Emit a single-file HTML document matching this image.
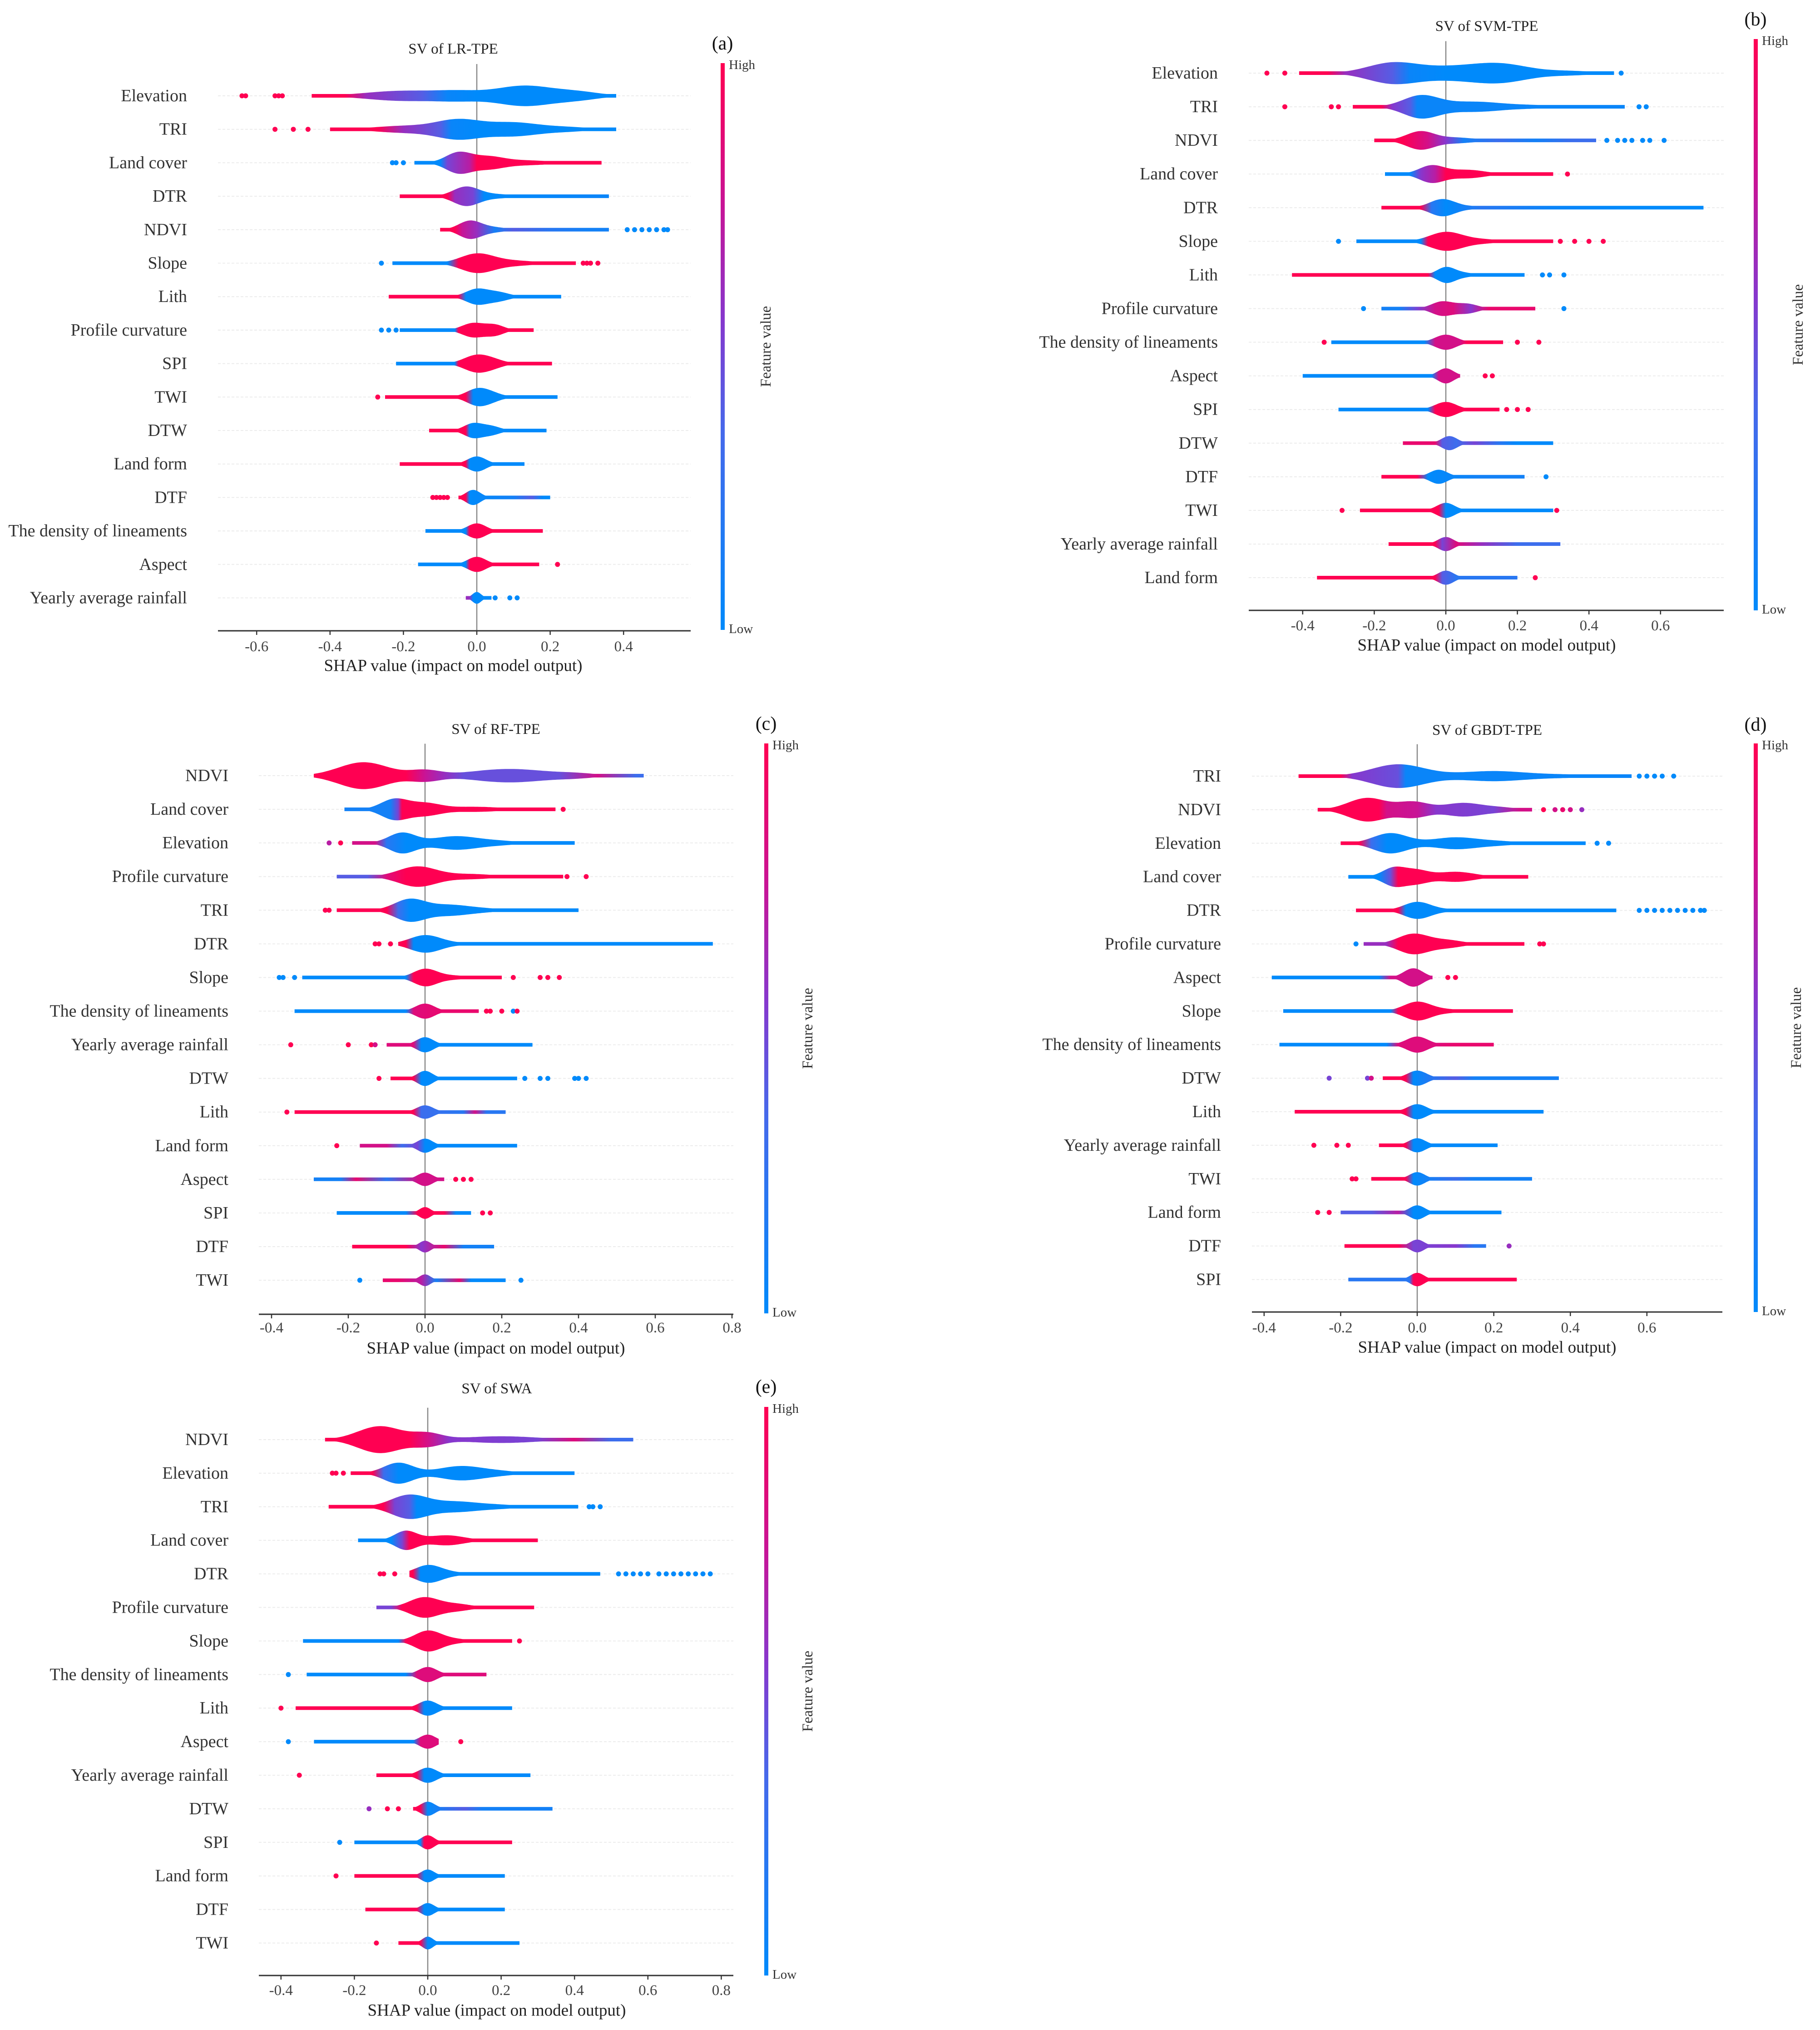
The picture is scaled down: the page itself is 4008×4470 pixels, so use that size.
<!DOCTYPE html>
<html><head><meta charset="utf-8"><style>
html,body{margin:0;padding:0;background:#fff;}
svg{display:block;font-family:"Liberation Serif",serif;}
</style></head><body>
<svg id="fig" xmlns="http://www.w3.org/2000/svg" width="4008" height="4470" viewBox="0 0 4008 4470">
<rect width="4008" height="4470" fill="#fff"/>
</svg>
<script>
// ---------- Panel A: SV of LR-TPE ----------
const featA = ["Elevation","TRI","Land cover","DTR","NDVI","Slope","Lith","Profile curvature","SPI","TWI","DTW","Land form","DTF","The density of lineaments","Aspect","Yearly average rainfall"];
const extA = [[-0.45,0.38],[-0.4,0.38],[-0.17,0.34],[-0.21,0.36],[-0.1,0.36],[-0.23,0.27],[-0.24,0.23],[-0.21,0.155],[-0.22,0.205],[-0.25,0.22],[-0.13,0.19],[-0.21,0.13],[-0.05,0.2],[-0.14,0.18],[-0.16,0.17],[-0.03,0.04]];
const peaksA = [
 [[-0.2,0.1,0.3],[-0.05,0.06,0.2],[0.13,0.08,0.6],[0.28,0.06,0.2]],
 [[-0.2,0.08,0.2],[-0.05,0.06,0.55],[0.1,0.07,0.4],[0.25,0.06,0.12]],
 [[-0.05,0.035,0.6],[0.03,0.04,0.3],[0.12,0.08,0.15]],
 [[-0.03,0.035,0.55],[0.05,0.05,0.12]],
 [[-0.02,0.03,0.5],[0.04,0.04,0.15]],
 [[0,0.045,0.55],[0.1,0.06,0.15]],
 [[0,0.03,0.45],[0.06,0.03,0.25]],
 [[-0.01,0.03,0.42],[0.05,0.025,0.3]],
 [[0,0.035,0.5],[0.05,0.03,0.15]],
 [[0,0.03,0.45],[0.04,0.03,0.2]],
 [[-0.01,0.025,0.42],[0.04,0.025,0.25]],
 [[0,0.025,0.45]],
 [[-0.01,0.02,0.45]],
 [[0,0.025,0.45]],
 [[0,0.025,0.45]],
 [[0,0.012,0.35]]];
const colA = [
 [[-0.36,1],[-0.3,0.6],[-0.15,0.4],[-0.08,0.05],[0,0]],
 [[-0.27,1],[-0.2,0.6],[-0.1,0.4],[-0.07,0.05],[0,0]],
 [[-0.1,0],[-0.08,0.5],[-0.02,0.7],[0,1]],
 [[-0.08,1],[-0.06,0.6],[-0.01,0.5],[0.02,0],[0.3,0.05]],
 [[-0.06,1],[-0.04,0.75],[0,0.6],[0.05,0.1],[0.1,0.4],[0.2,0.2],[0.3,0.1]],
 [[-0.08,0],[-0.05,1]],
 [[-0.05,1],[-0.03,0]],
 [[-0.06,0],[-0.05,1]],
 [[-0.06,0],[-0.05,1]],
 [[-0.03,1],[-0.01,0]],
 [[-0.03,1],[-0.02,0]],
 [[-0.03,1],[-0.02,0]],
 [[-0.03,1],[-0.02,0],[0.1,0.1],[0.15,0.4],[0.18,0]],
 [[-0.03,0],[-0.02,1]],
 [[-0.03,0],[-0.02,1]],
 [[-0.02,0.6],[-0.01,0]]];
const dotsA = [
 [[-0.64,1],[-0.63,1],[-0.55,1],[-0.54,1],[-0.53,1]],
 [[-0.55,1],[-0.5,1],[-0.46,1]],
 [[-0.23,0],[-0.22,0],[-0.2,0]],
 [],
 [[0.41,0],[0.43,0],[0.45,0],[0.47,0],[0.49,0],[0.51,0],[0.52,0]],
 [[-0.26,0],[0.29,1],[0.3,1],[0.31,1],[0.33,1]],
 [],
 [[-0.26,0],[-0.24,0],[-0.22,0]],
 [],
 [[-0.27,1]],
 [],[],
 [[-0.12,1],[-0.11,1],[-0.1,1],[-0.09,1],[-0.08,1]],
 [],
 [[0.22,1]],
 [[0.05,0],[0.09,0],[0.11,0]]];
const ticksA = ["-0.6","-0.4","-0.2","0.0","0.2","0.4"];

// ---------- Panel B: SV of SVM-TPE ----------
const featB = ["Elevation","TRI","NDVI","Land cover","DTR","Slope","Lith","Profile curvature","The density of lineaments","Aspect","SPI","DTW","DTF","TWI","Yearly average rainfall","Land form"];
const extB = [[-0.41,0.47],[-0.26,0.5],[-0.2,0.42],[-0.17,0.3],[-0.18,0.72],[-0.25,0.3],[-0.43,0.22],[-0.18,0.25],[-0.32,0.16],[-0.4,0.04],[-0.3,0.15],[-0.12,0.3],[-0.18,0.22],[-0.24,0.3],[-0.16,0.32],[-0.36,0.2]];
const peaksB = [
 [[-0.15,0.07,0.6],[0,0.08,0.3],[0.15,0.08,0.55],[0.35,0.07,0.12]],
 [[-0.07,0.05,0.65],[0.08,0.08,0.3],[0.25,0.06,0.08]],
 [[-0.07,0.04,0.55],[0.03,0.04,0.15],[0.15,0.06,0.08]],
 [[-0.04,0.035,0.5],[0.06,0.05,0.25]],
 [[-0.01,0.035,0.5],[0.08,0.05,0.08]],
 [[0,0.045,0.55],[0.1,0.05,0.12]],
 [[0,0.025,0.45],[0.05,0.03,0.12]],
 [[-0.01,0.03,0.42],[0.06,0.03,0.28]],
 [[0,0.03,0.45]],
 [[0,0.022,0.45]],
 [[0,0.03,0.45]],
 [[0.01,0.022,0.42]],
 [[-0.02,0.025,0.42]],
 [[0,0.025,0.45]],
 [[0,0.022,0.42]],
 [[0,0.022,0.42]]];
const colB = [
 [[-0.33,1],[-0.28,0.6],[-0.15,0.4],[-0.1,0.05],[0,0]],
 [[-0.18,1],[-0.15,0.55],[-0.1,0.4],[-0.08,0.05]],
 [[-0.12,1],[-0.05,0.8],[0,0.55],[0.05,0.1],[0.15,0.3],[0.25,0.1],[0.35,0.3]],
 [[-0.1,0],[-0.07,0.55],[-0.03,0.7],[0,1]],
 [[-0.07,1],[-0.04,0.2],[0,0],[0.1,0.2],[0.3,0.05],[0.5,0]],
 [[-0.07,0],[-0.05,1]],
 [[-0.05,1],[-0.03,0]],
 [[-0.13,0.1],[-0.08,0.5],[-0.03,0.8],[0.02,0.85],[0.07,0.55],[0.12,0.9]],
 [[-0.06,0],[-0.03,0.8],[0.04,0.8],[0.06,1]],
 [[-0.04,0],[-0.02,0.8]],
 [[-0.05,0],[-0.03,1]],
 [[-0.03,0.9],[-0.01,0.4],[0.03,0.3],[0.08,0.5],[0.15,0.2],[0.2,0]],
 [[-0.08,1],[-0.05,0],[0.1,0.1]],
 [[-0.02,1],[0,0]],
 [[-0.03,1],[-0.01,0.5],[0.03,0.85],[0.1,0.6],[0.2,0.3]],
 [[-0.03,1],[-0.01,0.4],[0.03,0.2]]];
const dotsB = [
 [[-0.5,1],[-0.45,1],[0.49,0]],
 [[-0.45,1],[-0.32,1],[-0.3,1],[0.54,0],[0.56,0]],
 [[0.45,0],[0.48,0],[0.5,0],[0.52,0],[0.55,0],[0.57,0],[0.61,0]],
 [[0.34,1]],
 [],
 [[-0.3,0],[0.32,1],[0.36,1],[0.4,1],[0.44,1]],
 [[0.27,0],[0.29,0],[0.33,0]],
 [[-0.23,0],[0.33,0]],
 [[-0.34,1],[0.2,1],[0.26,1]],
 [[0.11,1],[0.13,1]],
 [[0.17,1],[0.2,1],[0.23,1]],
 [],
 [[0.28,0]],
 [[-0.29,1],[0.31,1]],
 [],
 [[0.25,1]]];
const ticksB = ["-0.4","-0.2","0.0","0.2","0.4","0.6"];

// ---------- Panel C: SV of RF-TPE ----------
const featC = ["NDVI","Land cover","Elevation","Profile curvature","TRI","DTR","Slope","The density of lineaments","Yearly average rainfall","DTW","Lith","Land form","Aspect","SPI","DTF","TWI"];
const extC = [[-0.29,0.57],[-0.21,0.34],[-0.19,0.39],[-0.23,0.36],[-0.23,0.4],[-0.07,0.75],[-0.32,0.2],[-0.34,0.14],[-0.1,0.28],[-0.09,0.24],[-0.34,0.21],[-0.17,0.24],[-0.29,0.05],[-0.23,0.12],[-0.19,0.18],[-0.11,0.21]];
const peaksC = [
 [[-0.16,0.065,0.8],[0,0.04,0.3],[0.22,0.1,0.4],[0.4,0.05,0.1]],
 [[-0.08,0.035,0.6],[0,0.04,0.35],[0.13,0.07,0.15]],
 [[-0.06,0.035,0.6],[0.08,0.06,0.4],[0.2,0.05,0.1]],
 [[-0.02,0.05,0.6],[0.12,0.06,0.15]],
 [[-0.04,0.04,0.65],[0.06,0.05,0.3],[0.15,0.05,0.1]],
 [[0,0.04,0.5],[0.08,0.06,0.06]],
 [[0,0.03,0.5],[0.07,0.04,0.12]],
 [[0,0.025,0.45]],
 [[0,0.022,0.45]],
 [[0,0.02,0.45]],
 [[0,0.022,0.4]],
 [[0,0.02,0.42]],
 [[0,0.02,0.4]],
 [[0,0.015,0.35]],
 [[0,0.015,0.35]],
 [[0,0.015,0.35]]];
const colC = [
 [[-0.05,1],[0,0.75],[0.05,0.6],[0.1,0.45],[0.35,0.45],[0.45,0.8],[0.55,0.3]],
 [[-0.09,0.1],[-0.07,0.5],[-0.06,1]],
 [[-0.13,0.8],[-0.1,0.2],[-0.05,0]],
 [[-0.15,0.4],[-0.1,0.85],[-0.05,1]],
 [[-0.1,1],[-0.07,0.3],[-0.04,0]],
 [[-0.05,1],[-0.03,0]],
 [[-0.05,0],[-0.03,1]],
 [[-0.05,0],[-0.03,0.85],[0.05,0.9]],
 [[-0.03,0.85],[-0.01,0]],
 [[-0.03,1],[-0.01,0]],
 [[-0.03,1],[-0.01,0.3],[0.1,0.2],[0.13,0.8],[0.16,0.2]],
 [[-0.1,0.8],[-0.06,0.3],[-0.02,0.5],[0,0]],
 [[-0.22,0.1],[-0.18,0.9],[-0.1,0.2],[-0.02,0.8]],
 [[-0.05,0],[-0.02,1],[0.05,1],[0.08,0]],
 [[-0.05,1],[-0.01,0.55],[0.05,0.9],[0.1,0.1]],
 [[-0.07,0.9],[-0.01,0.7],[0.03,0.1],[0.09,0.9],[0.12,0]]];
const dotsC = [
 [],
 [[0.36,1]],
 [[-0.25,0.7],[-0.22,1]],
 [[0.37,1],[0.42,1]],
 [[-0.26,1],[-0.25,1]],
 [[-0.13,1],[-0.12,1],[-0.09,1]],
 [[-0.38,0],[-0.37,0],[-0.34,0],[0.23,1],[0.3,1],[0.32,1],[0.35,1]],
 [[0.16,1],[0.17,1],[0.2,1],[0.23,0],[0.24,1]],
 [[-0.35,1],[-0.2,1],[-0.14,1],[-0.13,0.8]],
 [[-0.12,1],[0.26,0],[0.3,0],[0.32,0],[0.39,0],[0.4,0],[0.42,0]],
 [[-0.36,1]],
 [[-0.23,1]],
 [[0.08,1],[0.1,1],[0.12,1]],
 [[0.15,1],[0.17,1]],
 [],
 [[-0.17,0],[0.25,0]]];
const ticksC = ["-0.4","-0.2","0.0","0.2","0.4","0.6","0.8"];

// ---------- Panel D: SV of GBDT-TPE ----------
const featD = ["TRI","NDVI","Elevation","Land cover","DTR","Profile curvature","Aspect","Slope","The density of lineaments","DTW","Lith","Yearly average rainfall","TWI","Land form","DTF","SPI"];
const extD = [[-0.31,0.56],[-0.26,0.3],[-0.2,0.44],[-0.18,0.29],[-0.16,0.52],[-0.14,0.28],[-0.38,0.04],[-0.35,0.25],[-0.36,0.2],[-0.09,0.37],[-0.32,0.33],[-0.1,0.21],[-0.12,0.3],[-0.2,0.22],[-0.19,0.18],[-0.18,0.26]];
const peaksD = [
 [[-0.05,0.07,0.7],[0.2,0.09,0.3],[0.4,0.07,0.08]],
 [[-0.13,0.05,0.7],[-0.01,0.04,0.45],[0.12,0.05,0.4],[0.22,0.04,0.12]],
 [[-0.07,0.045,0.6],[0.1,0.06,0.35],[0.22,0.05,0.1]],
 [[-0.06,0.03,0.55],[0,0.03,0.35],[0.1,0.05,0.3]],
 [[0,0.035,0.5],[0.08,0.04,0.06]],
 [[-0.01,0.04,0.6],[0.08,0.04,0.22]],
 [[-0.01,0.025,0.55]],
 [[0,0.035,0.55],[0.08,0.04,0.1]],
 [[0,0.028,0.48]],
 [[0,0.025,0.45]],
 [[0,0.025,0.45]],
 [[0,0.022,0.42]],
 [[0,0.02,0.4]],
 [[0,0.02,0.42]],
 [[0,0.018,0.38]],
 [[0,0.018,0.4]]];
const colD = [
 [[-0.2,1],[-0.17,0.55],[-0.05,0.45],[-0.03,0.05]],
 [[-0.1,1],[-0.08,0.8],[0,0.75],[0.05,0.55],[0.2,0.5],[0.27,0.8]],
 [[-0.15,1],[-0.12,0.3],[-0.08,0]],
 [[-0.1,0],[-0.07,0.45],[-0.05,1]],
 [[-0.05,1],[-0.03,0]],
 [[-0.08,0.6],[-0.05,1]],
 [[-0.1,0],[-0.07,0.8]],
 [[-0.07,0],[-0.05,1]],
 [[-0.08,0],[-0.05,0.85],[0.05,0.85],[0.1,0.9]],
 [[-0.03,1],[-0.01,0],[0.1,0.4],[0.15,0.1]],
 [[-0.03,1],[-0.01,0]],
 [[-0.03,1],[-0.01,0]],
 [[-0.03,1],[-0.01,0],[0.1,0.3],[0.15,0.1]],
 [[-0.12,0.4],[-0.05,0.7],[-0.01,0]],
 [[-0.05,1],[-0.01,0.5],[0.1,0.55],[0.15,0.2]],
 [[-0.02,0.2],[-0.01,1]]];
const dotsD = [
 [[0.58,0],[0.6,0],[0.62,0],[0.64,0],[0.67,0]],
 [[0.33,1],[0.36,0.8],[0.38,0.9],[0.4,0.8],[0.43,0.6]],
 [[0.47,0],[0.5,0]],
 [],
 [[0.58,0],[0.6,0],[0.62,0],[0.64,0],[0.66,0],[0.68,0],[0.7,0],[0.72,0],[0.74,0],[0.75,0]],
 [[-0.16,0],[0.32,1],[0.33,1]],
 [[0.08,1],[0.1,1]],
 [],[],
 [[-0.23,0.5],[-0.13,0.5],[-0.12,0.8]],
 [],
 [[-0.27,1],[-0.21,1],[-0.18,1]],
 [[-0.17,1],[-0.16,1]],
 [[-0.26,1],[-0.23,1]],
 [[0.24,0.6]],
 []];
const ticksD = ["-0.4","-0.2","0.0","0.2","0.4","0.6"];

// ---------- Panel E: SV of SWA ----------
const featE = ["NDVI","Elevation","TRI","Land cover","DTR","Profile curvature","Slope","The density of lineaments","Lith","Aspect","Yearly average rainfall","DTW","SPI","Land form","DTF","TWI"];
const extE = [[-0.28,0.56],[-0.21,0.4],[-0.27,0.41],[-0.19,0.3],[-0.05,0.47],[-0.14,0.29],[-0.34,0.23],[-0.33,0.16],[-0.36,0.23],[-0.31,0.03],[-0.14,0.28],[-0.04,0.34],[-0.2,0.23],[-0.2,0.21],[-0.17,0.21],[-0.08,0.25]];
const peaksE = [
 [[-0.13,0.06,0.8],[0,0.04,0.35],[0.2,0.1,0.2]],
 [[-0.08,0.04,0.62],[0.09,0.06,0.42],[0.2,0.05,0.1]],
 [[-0.05,0.05,0.7],[0.08,0.06,0.3],[0.2,0.05,0.1]],
 [[-0.06,0.03,0.55],[0.05,0.05,0.3]],
 [[0,0.035,0.5],[0.06,0.04,0.1]],
 [[-0.01,0.04,0.6],[0.08,0.04,0.2]],
 [[0,0.035,0.6],[0.07,0.04,0.12]],
 [[0,0.025,0.45]],
 [[0,0.025,0.45]],
 [[0,0.022,0.42]],
 [[0,0.025,0.45]],
 [[0,0.02,0.42]],
 [[0,0.018,0.42]],
 [[0,0.018,0.38]],
 [[0,0.018,0.38]],
 [[0,0.015,0.38]]];
const colE = [
 [[-0.05,1],[0,0.8],[0.06,0.55],[0.3,0.5],[0.4,0.85],[0.5,0.3]],
 [[-0.15,1],[-0.12,0.3],[-0.08,0]],
 [[-0.12,1],[-0.09,0.5],[-0.05,0.4],[-0.03,0]],
 [[-0.1,0],[-0.07,0.5],[-0.05,1]],
 [[-0.04,1],[-0.02,0]],
 [[-0.1,0.5],[-0.07,1]],
 [[-0.08,0],[-0.06,1]],
 [[-0.06,0],[-0.03,0.85]],
 [[-0.03,1],[-0.01,0]],
 [[-0.04,0],[-0.02,0.85]],
 [[-0.03,1],[-0.01,0]],
 [[-0.02,1],[0,0],[0.1,0.4],[0.15,0.1]],
 [[-0.02,0],[-0.01,1]],
 [[-0.03,1],[-0.01,0]],
 [[-0.03,1],[-0.01,0]],
 [[-0.02,1],[0,0]]];
const dotsE = [
 [],
 [[-0.26,1],[-0.25,1],[-0.23,1]],
 [[0.44,0],[0.45,0],[0.47,0]],
 [],
 [[-0.13,1],[-0.12,1],[-0.09,1],[0.52,0],[0.54,0],[0.56,0],[0.58,0],[0.6,0],[0.63,0],[0.65,0],[0.67,0],[0.69,0],[0.71,0],[0.73,0],[0.75,0],[0.77,0]],
 [],
 [[0.25,1]],
 [[-0.38,0]],
 [[-0.4,1]],
 [[-0.38,0],[0.09,1]],
 [[-0.35,1]],
 [[-0.16,0.6],[-0.11,1],[-0.08,1]],
 [[-0.24,0]],
 [[-0.25,1]],
 [],
 [[-0.14,1]]];
const ticksE = ["-0.4","-0.2","0.0","0.2","0.4","0.6","0.8"];

// ---------- rendering ----------
const NS = "http://www.w3.org/2000/svg";
const svg = document.getElementById('fig');
const defs = document.createElementNS(NS,'defs');
svg.appendChild(defs);
let gid = 0;
function mk(tag, attrs, parent){
  const e = document.createElementNS(NS, tag);
  for (const k in attrs) e.setAttribute(k, attrs[k]);
  (parent||svg).appendChild(e);
  return e;
}
const CM = [[0,[0,138,251]],[0.35,[70,105,235]],[0.55,[135,55,205]],[0.75,[200,20,150]],[1,[255,0,82]]];
function cmap(c){
  c = Math.max(0, Math.min(1, c));
  for (let i=0;i<CM.length-1;i++){
    const a=CM[i], b=CM[i+1];
    if (c<=b[0]){
      const t=(c-a[0])/(b[0]-a[0]);
      const r=a[1].map((v,j)=>Math.round(v+(b[1][j]-v)*t));
      return 'rgb('+r.join(',')+')';
    }
  }
  return 'rgb(255,0,82)';
}
function drawPanel(cfg, feat, ext, peaks, cols, dots, ticks){
  const g = mk('g', {});
  
  
  const xs = v => cfg.zero + v*cfg.unit;
  const ys = i => cfg.row0 + i*cfg.sp;
  feat.forEach((f,i)=>{
    const ln = mk('line',{x1:cfg.ax0, x2:cfg.ax1, y1:ys(i), y2:ys(i), stroke:'#ececec','stroke-width':2,'stroke-dasharray':'6,4'}, g);
    
    
  });
  const zl = mk('line',{x1:xs(0),x2:xs(0),y1:cfg.row0-0.95*cfg.sp,y2:cfg.axY,stroke:'#888','stroke-width':2.5}, g);
  
  
  feat.forEach((f,i)=>{
    const y = ys(i);
    const t = mk('text',{x:cfg.labR, y:y, 'font-size':38, 'text-anchor':'end','dominant-baseline':'central', fill:'#333'}, g);
    t.textContent = f;
    
    
    const lo = ext[i][0], hi = ext[i][1];
    const N = 160, pts = [], ptsB = [];
    for (let k=0;k<=N;k++){
      const v = lo + (hi-lo)*k/N;
      let w = 0;
      peaks[i].forEach(p=>{ w += p[2]*37*Math.exp(-0.5*Math.pow((v-p[0])/p[1],2)); });
      w = Math.max(w, 4);
      pts.push(xs(v).toFixed(1)+','+(y-w).toFixed(1));
      ptsB.unshift(xs(v).toFixed(1)+','+(y+w).toFixed(1));
    }
    const id = 'g'+(gid++);
    const lg = mk('linearGradient',{id:id, gradientUnits:'userSpaceOnUse', x1:xs(lo), x2:xs(hi), y1:0, y2:0}, defs);
    let prev = 0;
    cols[i].forEach(s=>{
      let off = (s[0]-lo)/(hi-lo);
      off = Math.max(prev, Math.min(1, off)); prev = off;
      mk('stop',{offset:off, 'stop-color':cmap(s[1])}, lg);
    });
    const poly = mk('polygon',{points:pts.concat(ptsB).join(' '), fill:'url(#'+id+')'}, g);
    
    
    dots[i].forEach(d=>{
      const c = mk('circle',{cx:xs(d[0]), cy:y, r:5.5, fill:cmap(d[1])}, g);
      
      
    });
  });
  const ax = mk('line',{x1:cfg.ax0,x2:cfg.ax1,y1:cfg.axY,y2:cfg.axY,stroke:'#333','stroke-width':3}, g);
  
  
  ticks.forEach(tl=>{
    const v = parseFloat(tl), x = xs(v);
    const tk = mk('line',{x1:x,x2:x,y1:cfg.axY,y2:cfg.axY+9,stroke:'#333','stroke-width':2.5}, g);
    
    
    const tt = mk('text',{x:x, y:cfg.tickY,'font-size':33,'text-anchor':'middle','dominant-baseline':'central',fill:'#444'}, g);
    tt.textContent = tl;
    
    
  });
  const xl = mk('text',{x:cfg.tx, y:cfg.xlY,'font-size':37,'text-anchor':'middle','dominant-baseline':'central',fill:'#222'}, g);
  xl.textContent = 'SHAP value (impact on model output)';
  
  
  const ti = mk('text',{x:cfg.tx, y:cfg.ty,'font-size':33,'text-anchor':'middle','dominant-baseline':'central',fill:'#222'}, g);
  ti.textContent = cfg.title;
  
  
  const le = mk('text',{x:cfg.cbX, y:cfg.ly,'font-size':42,'text-anchor':'middle','dominant-baseline':'central',fill:'#111'}, g);
  le.textContent = cfg.letter;
  
  
  const cid = 'cb'+(gid++);
  const cg = mk('linearGradient',{id:cid, x1:0,x2:0,y1:0,y2:1}, defs);
  [1,0.75,0.55,0.35,0].forEach((c,k)=>{ mk('stop',{offset:1-c,'stop-color':cmap(c)}, cg); });
  const cb = mk('rect',{x:cfg.cbX-4, y:cfg.cb0, width:9, height:cfg.cb1-cfg.cb0, fill:'url(#'+cid+')'}, g);
  
  
  const hi = mk('text',{x:cfg.cbX+14, y:cfg.cb0+4,'font-size':29,'dominant-baseline':'central',fill:'#333'}, g);
  hi.textContent='High';
  
  
  const lo = mk('text',{x:cfg.cbX+14, y:cfg.cb1-2,'font-size':29,'dominant-baseline':'central',fill:'#333'}, g);
  lo.textContent='Low';
  
  
  const my = (cfg.cb0+cfg.cb1)/2;
  const fv = mk('text',{x:cfg.fvX, y:my,'font-size':33,'text-anchor':'middle','dominant-baseline':'central',fill:'#333',transform:'rotate(-90 '+cfg.fvX+' '+my+')'}, g);
  fv.textContent='Feature value';
  
  
}
drawPanel({name:'panel-a',title:'SV of LR-TPE',letter:'(a)',zero:1050,unit:808,ax0:480,ax1:1521,axY:1389,row0:211,sp:73.7,labR:412,tickY:1424,tx:998,ty:108,xlY:1466,ly:96,cbX:1591,cb0:139,cb1:1387,fvX:1687}, featA, extA, peaksA, colA, dotsA, ticksA);
drawPanel({name:'panel-b',title:'SV of SVM-TPE',letter:'(b)',zero:3184,unit:788,ax0:2750,ax1:3796,axY:1344,row0:161,sp:74.07,labR:2682,tickY:1378,tx:3274,ty:58,xlY:1421,ly:43,cbX:3866,cb0:86,cb1:1344,fvX:3960}, featB, extB, peaksB, colB, dotsB, ticksB);
drawPanel({name:'panel-c',title:'SV of RF-TPE',letter:'(c)',zero:936,unit:845,ax0:570,ax1:1615,axY:2894,row0:1708,sp:74.07,labR:503,tickY:2924,tx:1092,ty:1606,xlY:2969,ly:1594,cbX:1687,cb0:1637,cb1:2892,fvX:1779}, featC, extC, peaksC, colC, dotsC, ticksC);
drawPanel({name:'panel-d',title:'SV of GBDT-TPE',letter:'(d)',zero:3121,unit:843,ax0:2757,ax1:3793,axY:2889,row0:1709,sp:73.9,labR:2689,tickY:2924,tx:3275,ty:1608,xlY:2967,ly:1596,cbX:3866,cb0:1637,cb1:2889,fvX:3956}, featD, extD, peaksD, colD, dotsD, ticksD);
drawPanel({name:'panel-e',title:'SV of SWA',letter:'(e)',zero:942,unit:808,ax0:570,ax1:1615,axY:4350,row0:3170,sp:73.9,labR:503,tickY:4383,tx:1094,ty:3058,xlY:4427,ly:3054,cbX:1687,cb0:3098,cb1:4350,fvX:1779}, featE, extE, peaksE, colE, dotsE, ticksE);
</script>
</body></html>
